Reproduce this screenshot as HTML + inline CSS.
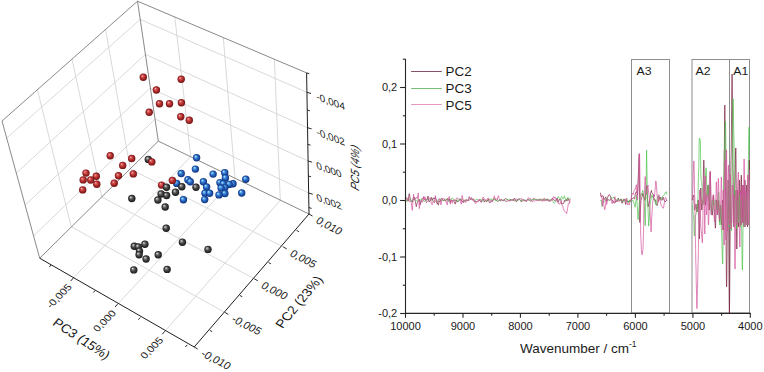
<!DOCTYPE html>
<html><head><meta charset="utf-8"><style>
html,body{margin:0;padding:0;background:#fff;}
body{width:764px;height:372px;overflow:hidden;}
svg{display:block;}
.g{stroke:#cfcfcf;stroke-width:0.8;fill:none;}
.fr{stroke:#7c7c7c;stroke-width:0.9;fill:none;}
.ax{stroke:#1e1e1e;stroke-width:1.0;fill:none;}
.tk{stroke:#1e1e1e;stroke-width:0.95;fill:none;}
.ax2{stroke:#262626;stroke-width:1.1;fill:none;}
.box{stroke:#8e8e8e;stroke-width:1;fill:none;}
text{font-family:"Liberation Sans",sans-serif;fill:#1a1a1a;}
</style></head><body>
<svg width="764" height="372" viewBox="0 0 764 372">
<defs>
<radialGradient id="rg" cx="0.5" cy="0.5" r="0.52" fx="0.33" fy="0.3">
<stop offset="0" stop-color="#fbd0d0"/><stop offset="0.18" stop-color="#e07070"/><stop offset="0.5" stop-color="#bf3434"/><stop offset="1" stop-color="#6a1010"/></radialGradient>
<radialGradient id="bg" cx="0.5" cy="0.5" r="0.52" fx="0.33" fy="0.3">
<stop offset="0" stop-color="#d8f6ff"/><stop offset="0.18" stop-color="#70b8f0"/><stop offset="0.5" stop-color="#2a6cc8"/><stop offset="1" stop-color="#0c2c74"/></radialGradient>
<radialGradient id="kg" cx="0.5" cy="0.5" r="0.52" fx="0.33" fy="0.3">
<stop offset="0" stop-color="#f4f4f4"/><stop offset="0.18" stop-color="#a0a0a0"/><stop offset="0.5" stop-color="#4a4a4a"/><stop offset="1" stop-color="#141414"/></radialGradient>
</defs>
<line x1="6.7" y1="138.1" x2="140.2" y2="19.4" class="g"/>
<line x1="140.2" y1="19.4" x2="306.9" y2="92.3" class="g"/>
<line x1="16.3" y1="173.1" x2="145.4" y2="54.4" class="g"/>
<line x1="145.4" y1="54.4" x2="307.5" y2="127.7" class="g"/>
<line x1="25.4" y1="204.9" x2="150.2" y2="88.1" class="g"/>
<line x1="150.2" y1="88.1" x2="308.1" y2="161.0" class="g"/>
<line x1="34.0" y1="235.4" x2="155.2" y2="119.0" class="g"/>
<line x1="155.2" y1="119.0" x2="308.6" y2="193.0" class="g"/>
<line x1="37.4" y1="89.7" x2="71.2" y2="226.6" class="g"/>
<line x1="72.0" y1="59.1" x2="101.8" y2="196.9" class="g"/>
<line x1="105.6" y1="29.8" x2="130.2" y2="168.9" class="g"/>
<line x1="174.8" y1="17.0" x2="190.8" y2="156.6" class="g"/>
<line x1="223.3" y1="37.6" x2="235.0" y2="178.2" class="g"/>
<line x1="274.4" y1="59.2" x2="280.3" y2="200.3" class="g"/>
<line x1="71.2" y1="226.6" x2="224.8" y2="312.4" class="g"/>
<line x1="101.8" y1="196.9" x2="254.3" y2="278.8" class="g"/>
<line x1="130.2" y1="168.9" x2="283.2" y2="246.9" class="g"/>
<line x1="73.3" y1="278.0" x2="190.8" y2="156.6" class="g"/>
<line x1="117.6" y1="304.1" x2="235.0" y2="178.2" class="g"/>
<line x1="164.9" y1="331.2" x2="280.3" y2="200.3" class="g"/>
<line x1="2.0" y1="121.0" x2="137.5" y2="1.2" class="fr"/>
<line x1="137.5" y1="1.2" x2="306.6" y2="72.9" class="fr"/>
<line x1="2.0" y1="121.0" x2="39.7" y2="258.2" class="fr"/>
<line x1="137.5" y1="1.2" x2="158.3" y2="141.1" class="fr"/>
<line x1="39.7" y1="258.2" x2="158.3" y2="141.1" class="fr"/>
<line x1="158.3" y1="141.1" x2="309.0" y2="214.0" class="fr"/>
<circle cx="143.3" cy="77.2" r="3.7" fill="url(#rg)"/>
<circle cx="181.2" cy="79.2" r="3.7" fill="url(#rg)"/>
<circle cx="156.4" cy="90.0" r="3.7" fill="url(#rg)"/>
<circle cx="181.4" cy="102.7" r="3.7" fill="url(#rg)"/>
<circle cx="159.5" cy="103.7" r="3.7" fill="url(#rg)"/>
<circle cx="169.5" cy="103.7" r="3.7" fill="url(#rg)"/>
<circle cx="149.2" cy="112.3" r="3.7" fill="url(#rg)"/>
<circle cx="180.8" cy="116.8" r="3.7" fill="url(#rg)"/>
<circle cx="189.3" cy="120.2" r="3.7" fill="url(#rg)"/>
<circle cx="110.2" cy="155.7" r="3.7" fill="url(#rg)"/>
<circle cx="196.6" cy="157.8" r="3.7" fill="url(#bg)"/>
<circle cx="131.7" cy="158.5" r="3.7" fill="url(#rg)"/>
<circle cx="148.3" cy="159.4" r="3.7" fill="url(#kg)"/>
<circle cx="151.8" cy="161.9" r="3.7" fill="url(#rg)"/>
<circle cx="122.7" cy="165.4" r="3.7" fill="url(#rg)"/>
<circle cx="195.4" cy="169.1" r="3.7" fill="url(#bg)"/>
<circle cx="224.7" cy="172.7" r="3.7" fill="url(#bg)"/>
<circle cx="86.0" cy="173.1" r="3.7" fill="url(#rg)"/>
<circle cx="181.2" cy="173.5" r="3.7" fill="url(#bg)"/>
<circle cx="133.3" cy="173.9" r="3.7" fill="url(#rg)"/>
<circle cx="213.1" cy="174.1" r="3.7" fill="url(#bg)"/>
<circle cx="118.5" cy="175.8" r="3.7" fill="url(#rg)"/>
<circle cx="96.3" cy="176.3" r="3.7" fill="url(#rg)"/>
<circle cx="225.4" cy="177.9" r="3.7" fill="url(#bg)"/>
<circle cx="245.8" cy="179.2" r="3.7" fill="url(#bg)"/>
<circle cx="187.9" cy="179.8" r="3.7" fill="url(#bg)"/>
<circle cx="83.2" cy="179.9" r="3.7" fill="url(#rg)"/>
<circle cx="90.7" cy="180.0" r="3.7" fill="url(#rg)"/>
<circle cx="190.3" cy="181.7" r="3.7" fill="url(#bg)"/>
<circle cx="203.4" cy="181.7" r="3.7" fill="url(#bg)"/>
<circle cx="220.0" cy="182.7" r="3.7" fill="url(#bg)"/>
<circle cx="114.2" cy="183.2" r="3.7" fill="url(#rg)"/>
<circle cx="176.7" cy="183.4" r="3.7" fill="url(#bg)"/>
<circle cx="223.3" cy="183.8" r="3.7" fill="url(#bg)"/>
<circle cx="233.0" cy="183.8" r="3.7" fill="url(#bg)"/>
<circle cx="96.8" cy="184.2" r="3.7" fill="url(#rg)"/>
<circle cx="229.2" cy="184.4" r="3.7" fill="url(#bg)"/>
<circle cx="161.6" cy="185.1" r="3.7" fill="url(#rg)"/>
<circle cx="181.8" cy="186.7" r="3.7" fill="url(#kg)"/>
<circle cx="206.6" cy="187.0" r="3.7" fill="url(#bg)"/>
<circle cx="166.5" cy="187.2" r="3.7" fill="url(#kg)"/>
<circle cx="196.0" cy="187.3" r="3.7" fill="url(#kg)"/>
<circle cx="224.9" cy="187.6" r="3.7" fill="url(#bg)"/>
<circle cx="221.1" cy="188.1" r="3.7" fill="url(#bg)"/>
<circle cx="82.7" cy="189.9" r="3.7" fill="url(#rg)"/>
<circle cx="175.5" cy="192.2" r="3.7" fill="url(#kg)"/>
<circle cx="241.7" cy="193.0" r="3.7" fill="url(#bg)"/>
<circle cx="205.0" cy="193.2" r="3.7" fill="url(#bg)"/>
<circle cx="209.6" cy="193.2" r="3.7" fill="url(#bg)"/>
<circle cx="224.9" cy="193.5" r="3.7" fill="url(#bg)"/>
<circle cx="161.1" cy="194.0" r="3.7" fill="url(#kg)"/>
<circle cx="219.0" cy="194.9" r="3.7" fill="url(#bg)"/>
<circle cx="166.6" cy="195.5" r="3.7" fill="url(#kg)"/>
<circle cx="131.8" cy="198.5" r="3.7" fill="url(#kg)"/>
<circle cx="204.7" cy="199.6" r="3.7" fill="url(#bg)"/>
<circle cx="183.4" cy="199.7" r="3.7" fill="url(#bg)"/>
<circle cx="157.9" cy="200.0" r="3.7" fill="url(#kg)"/>
<circle cx="165.2" cy="207.0" r="3.7" fill="url(#kg)"/>
<circle cx="166.2" cy="228.2" r="3.7" fill="url(#kg)"/>
<circle cx="182.4" cy="242.2" r="3.7" fill="url(#kg)"/>
<circle cx="144.9" cy="244.2" r="3.7" fill="url(#kg)"/>
<circle cx="134.3" cy="246.3" r="3.7" fill="url(#kg)"/>
<circle cx="138.3" cy="246.9" r="3.7" fill="url(#kg)"/>
<circle cx="208.0" cy="249.4" r="3.7" fill="url(#kg)"/>
<circle cx="139.5" cy="251.1" r="3.7" fill="url(#kg)"/>
<circle cx="139.1" cy="254.7" r="3.7" fill="url(#kg)"/>
<circle cx="158.2" cy="254.7" r="3.7" fill="url(#kg)"/>
<circle cx="146.1" cy="259.0" r="3.7" fill="url(#kg)"/>
<circle cx="167.1" cy="269.4" r="3.7" fill="url(#kg)"/>
<circle cx="133.8" cy="269.9" r="3.7" fill="url(#kg)"/>
<circle cx="172.4" cy="180.4" r="3.7" fill="url(#rg)"/>
<line x1="39.7" y1="258.2" x2="194.2" y2="347.0" class="ax"/>
<line x1="194.2" y1="347.0" x2="309.0" y2="214.0" class="ax"/>
<line x1="309.0" y1="214.0" x2="306.6" y2="72.9" class="ax"/>
<line x1="306.9" y1="92.3" x2="311.0" y2="93.5" class="tk"/>
<line x1="307.5" y1="127.7" x2="311.6" y2="128.9" class="tk"/>
<line x1="308.1" y1="161.0" x2="312.1" y2="162.2" class="tk"/>
<line x1="308.6" y1="193.0" x2="312.7" y2="194.2" class="tk"/>
<line x1="306.6" y1="72.9" x2="309.3" y2="73.7" class="tk"/>
<line x1="307.2" y1="110.0" x2="309.9" y2="110.8" class="tk"/>
<line x1="307.8" y1="144.4" x2="310.5" y2="145.2" class="tk"/>
<line x1="308.4" y1="176.0" x2="311.0" y2="176.8" class="tk"/>
<line x1="308.9" y1="207.6" x2="311.6" y2="208.4" class="tk"/>
<line x1="194.2" y1="347.0" x2="197.7" y2="349.0" class="tk"/>
<line x1="224.8" y1="312.4" x2="228.3" y2="314.4" class="tk"/>
<line x1="254.3" y1="278.8" x2="257.8" y2="280.8" class="tk"/>
<line x1="283.2" y1="246.9" x2="286.7" y2="248.9" class="tk"/>
<line x1="309.0" y1="214.0" x2="312.5" y2="216.0" class="tk"/>
<line x1="209.8" y1="330.3" x2="212.2" y2="331.7" class="tk"/>
<line x1="239.9" y1="295.4" x2="242.3" y2="296.8" class="tk"/>
<line x1="268.6" y1="262.5" x2="271.0" y2="263.9" class="tk"/>
<line x1="296.5" y1="230.3" x2="298.9" y2="231.7" class="tk"/>
<line x1="73.3" y1="278.0" x2="70.7" y2="281.0" class="tk"/>
<line x1="117.6" y1="304.1" x2="115.0" y2="307.1" class="tk"/>
<line x1="164.9" y1="331.2" x2="162.3" y2="334.2" class="tk"/>
<line x1="51.1" y1="265.0" x2="49.3" y2="267.1" class="tk"/>
<line x1="95.2" y1="290.4" x2="93.4" y2="292.5" class="tk"/>
<line x1="140.2" y1="317.6" x2="138.4" y2="319.7" class="tk"/>
<line x1="187.2" y1="344.9" x2="185.4" y2="347.0" class="tk"/>
<text transform="matrix(0.9648,0.3607,0.1045,0.9945,316.78,99.80)" font-size="10.4" text-anchor="start" class="lb">-0,004</text>
<text transform="matrix(0.9648,0.3607,0.1392,0.9903,316.90,135.20)" font-size="10.4" text-anchor="start" class="lb">-0,002</text>
<text transform="matrix(0.9648,0.3607,0.1908,0.9816,317.09,168.50)" font-size="10.4" text-anchor="start" class="lb">0,000</text>
<text transform="matrix(0.9648,0.3607,0.2250,0.9744,317.21,200.50)" font-size="10.4" text-anchor="start" class="lb">0,002</text>
<text transform="matrix(0.8870,0.4617,-0.5800,0.8100,200.10,355.60)" font-size="11" text-anchor="start" class="lb">-0,010</text>
<text transform="matrix(0.8870,0.4617,-0.5800,0.8100,230.70,321.00)" font-size="11" text-anchor="start" class="lb">-0,005</text>
<text transform="matrix(0.8870,0.4617,-0.5800,0.8100,260.20,287.40)" font-size="11" text-anchor="start" class="lb">0,000</text>
<text transform="matrix(0.8870,0.4617,-0.5800,0.8100,289.10,255.50)" font-size="11" text-anchor="start" class="lb">0,005</text>
<text transform="matrix(0.8870,0.4617,-0.5800,0.8100,314.90,222.60)" font-size="11" text-anchor="start" class="lb">0,010</text>
<text transform="matrix(0.7637,-0.7637,0.8000,0.6000,72.50,287.30)" font-size="10" text-anchor="end" class="lb">-0,005</text>
<text transform="matrix(0.7637,-0.7637,0.8000,0.6000,116.80,313.40)" font-size="10" text-anchor="end" class="lb">0,000</text>
<text transform="matrix(0.7637,-0.7637,0.8000,0.6000,164.10,340.50)" font-size="10" text-anchor="end" class="lb">0,005</text>
<text transform="matrix(0.0000,-0.7600,0.8800,0.4800,358.60,191.80)" font-size="13.5" text-anchor="start" class="lb">PC5 (4%)</text>
<text transform="matrix(0.8350,0.5500,-0.6300,0.7760,51.80,324.60)" font-size="13.2" text-anchor="start" class="lb">PC3 (15%)</text>
<text transform="matrix(0.6370,-0.7700,0.8700,0.4900,282.40,329.00)" font-size="13.2" text-anchor="start" class="lb">PC2 (23%)</text>
<rect x="631.5" y="59.5" width="38.0" height="253.5" class="box"/>
<rect x="692.0" y="59.5" width="37.5" height="253.5" class="box"/>
<rect x="729.5" y="59.5" width="20.0" height="253.5" class="box"/>
<path d="M406.3,197.5 L407.3,200.0 L408.3,201.1 L409.0,194.8 L409.3,193.7 L410.3,199.1 L411.3,200.6 L412.3,202.2 L413.3,198.1 L414.3,197.0 L415.3,201.2 L416.0,205.2 L416.3,206.6 L417.3,202.6 L418.3,200.4 L419.3,199.5 L420.3,204.7 L421.3,200.6 L422.3,198.6 L423.3,197.4 L424.3,199.5 L425.3,200.0 L426.3,199.4 L427.3,199.5 L428.0,196.0 L428.3,198.8 L429.3,201.9 L430.3,200.7 L431.3,197.3 L432.3,200.3 L433.3,197.8 L434.3,199.1 L435.3,197.4 L436.3,199.8 L437.0,203.5 L437.3,202.7 L438.3,205.1 L439.3,201.1 L440.3,201.5 L441.3,198.2 L442.3,199.0 L443.3,200.7 L444.3,200.0 L445.3,200.5 L446.3,200.2 L447.3,198.4 L448.3,200.4 L449.3,198.8 L450.3,202.5 L451.3,199.8 L452.3,200.9 L453.3,200.2 L454.3,202.0 L455.0,203.7 L455.3,204.1 L456.3,200.1 L457.3,201.9 L458.3,201.4 L459.3,200.5 L460.3,198.8 L461.3,200.8 L462.3,200.9 L463.3,202.7 L464.3,200.0 L465.3,200.8 L466.3,200.9 L467.3,200.6 L468.3,200.4 L469.3,200.3 L470.3,199.3 L471.3,198.5 L472.3,199.1 L473.3,200.4 L474.3,201.8 L475.3,201.6 L476.3,201.6 L477.3,201.3 L478.3,201.1 L479.3,200.4 L480.3,201.0 L481.3,202.3 L482.3,200.1 L483.3,199.1 L484.3,202.1 L485.3,200.7 L486.3,201.3 L487.3,201.3 L488.3,198.9 L489.3,202.6 L490.3,202.7 L491.3,200.8 L492.3,201.0 L493.3,200.3 L494.3,198.9 L495.3,199.5 L496.3,200.3 L497.3,201.3 L498.3,201.1 L499.3,200.3 L500.3,201.1 L501.3,199.6 L502.3,200.4 L503.3,200.9 L504.3,199.9 L505.3,198.5 L506.3,198.8 L507.3,199.8 L508.3,200.3 L509.3,201.2 L510.3,199.4 L511.3,199.8 L512.3,200.4 L513.3,199.9 L514.3,198.1 L515.3,200.1 L516.3,201.7 L517.3,201.1 L518.3,199.5 L519.3,199.5 L520.3,200.0 L521.3,201.9 L522.3,200.9 L523.3,200.2 L524.3,201.2 L525.3,200.2 L526.3,201.4 L527.3,199.7 L528.3,199.5 L529.3,200.4 L530.3,201.1 L531.3,200.7 L532.3,200.3 L533.3,198.6 L534.3,199.0 L535.3,199.2 L536.3,199.3 L537.3,200.2 L538.3,199.7 L539.3,200.5 L540.3,200.1 L541.3,199.7 L542.3,199.9 L543.3,200.2 L544.3,200.7 L545.3,199.7 L546.3,199.7 L547.3,198.8 L548.3,200.9 L549.3,201.3 L550.3,200.1 L551.3,199.6 L552.3,198.3 L553.3,199.7 L554.3,200.1 L555.0,200.7 L555.3,201.1 L556.3,200.1 L557.3,198.4 L558.0,202.3 L558.3,202.3 L559.3,199.3 L560.3,200.2 L561.0,199.4 L561.3,204.0 L562.3,203.6 L563.3,203.6 L564.0,203.0 L564.3,200.3 L565.3,201.3 L566.3,199.4 L567.0,201.1 L567.3,198.4 L568.3,198.9 L569.3,201.4 L570.3,202.3" fill="none" stroke="#7a1f3d" stroke-width="0.7" stroke-linejoin="round"/>
<path d="M600.4,192.7 L601.3,196.7 L602.2,196.2 L603.1,195.6 L604.0,199.8 L604.9,198.3 L605.8,196.9 L606.7,201.1 L607.6,197.6 L608.5,195.2 L609.4,194.4 L610.3,196.0 L611.2,198.9 L612.1,200.1 L613.0,201.0 L613.9,202.8 L614.8,203.0 L615.7,201.0 L616.6,202.0 L617.5,200.9 L618.4,198.2 L619.3,200.5 L620.2,199.6 L621.1,198.9 L622.0,203.3 L622.9,201.9 L623.8,199.1 L624.7,199.3 L625.6,204.4 L626.5,200.4 L627.4,201.5 L628.3,201.6 L629.2,201.5 L630.1,201.6 L631.0,199.9 L631.9,198.7 L632.8,198.5 L633.7,197.7 L634.0,198.4 L634.6,198.9 L635.5,192.9 L636.0,192.2 L636.4,191.6 L637.3,193.3 L637.5,194.8 L638.2,178.6 L639.1,156.8 L639.2,153.8 L639.8,222.4 L640.0,218.3 L640.9,200.9 L641.0,200.3 L641.8,197.4 L642.7,193.5 L643.0,195.1 L643.6,197.3 L644.5,197.8 L645.0,200.3 L645.4,196.9 L646.3,185.6 L646.5,185.7 L647.2,195.7 L648.1,206.6 L649.0,203.2 L649.9,198.9 L650.0,198.5 L650.8,192.2 L651.5,190.4 L651.7,192.3 L652.6,193.9 L653.4,194.4 L653.5,196.8 L654.4,199.5 L655.0,200.2 L655.3,199.7 L656.2,204.5 L657.0,205.6 L657.1,205.7 L658.0,202.1 L658.9,199.7 L659.0,197.0 L659.8,198.5 L660.7,197.2 L661.0,199.9 L661.6,200.1 L662.5,199.9 L663.0,197.0 L663.4,198.5 L664.3,200.4 L665.0,201.4 L665.2,202.0 L666.1,201.0 L667.0,200.1" fill="none" stroke="#7a1f3d" stroke-width="0.7" stroke-linejoin="round"/>
<path d="M692.2,200.0 L692.4,200.0 L692.6,198.8 L692.8,197.4 L693.0,196.6 L693.2,195.7 L693.4,195.2 L693.5,195.0 L693.6,195.3 L693.8,197.5 L694.0,201.3 L694.2,205.6 L694.4,208.7 L694.6,210.1 L694.8,209.9 L695.0,208.7 L695.2,207.8 L695.4,206.4 L695.6,205.4 L695.8,204.7 L696.0,204.1 L696.2,204.5 L696.4,206.8 L696.6,209.0 L696.8,211.5 L697.0,212.0 L697.2,211.2 L697.4,209.4 L697.6,205.8 L697.8,203.0 L698.0,200.6 L698.2,200.0 L698.4,202.5 L698.6,209.9 L698.8,219.5 L699.0,229.3 L699.2,236.6 L699.4,238.9 L699.6,233.5 L699.8,219.5 L700.0,205.4 L700.2,199.9 L700.4,197.1 L700.6,191.2 L700.8,188.0 L701.0,190.1 L701.2,195.7 L701.4,202.6 L701.6,208.0 L701.8,210.1 L702.0,209.0 L702.2,206.4 L702.4,203.6 L702.6,201.1 L702.8,200.0 L703.0,196.3 L703.2,186.3 L703.4,174.0 L703.6,164.1 L703.8,160.1 L704.0,164.6 L704.2,175.0 L704.4,185.5 L704.6,189.9 L704.8,191.4 L705.0,195.2 L705.2,199.9 L705.4,203.3 L705.6,205.0 L705.8,203.9 L706.0,201.2 L706.2,198.6 L706.4,196.2 L706.6,195.0 L706.8,194.6 L707.0,193.7 L707.2,191.4 L707.4,189.7 L707.6,187.9 L707.8,186.4 L708.0,185.0 L708.1,184.9 L708.2,185.5 L708.4,189.6 L708.6,195.6 L708.8,202.5 L709.0,207.8 L709.2,210.1 L709.4,206.3 L709.6,197.0 L709.8,185.3 L710.0,175.9 L710.2,172.1 L710.4,175.3 L710.6,183.7 L710.8,193.8 L711.0,201.7 L711.2,205.0 L711.4,206.1 L711.6,208.5 L711.8,211.5 L712.0,214.1 L712.2,215.2 L712.4,214.0 L712.6,210.8 L712.8,206.4 L713.0,201.5 L713.2,197.8 L713.4,195.5 L713.5,195.0 L713.6,195.2 L713.8,198.7 L714.0,203.7 L714.2,208.6 L714.4,211.1 L714.5,212.0 L714.6,212.2 L714.8,215.9 L715.0,221.3 L715.2,226.0 L715.4,228.1 L715.6,225.4 L715.8,218.6 L716.0,209.6 L716.2,202.6 L716.4,200.1 L716.6,201.3 L716.8,204.3 L717.0,208.4 L717.2,212.3 L717.4,214.7 L717.5,215.0 L717.6,214.7 L717.8,212.1 L718.0,207.7 L718.2,203.2 L718.4,200.7 L718.5,200.1 L718.6,200.6 L718.8,204.5 L719.0,211.0 L719.2,217.3 L719.4,221.2 L719.5,222.0 L719.6,221.5 L719.8,218.6 L720.0,213.4 L720.2,208.5 L720.4,205.5 L720.5,205.0 L720.6,205.5 L720.8,209.0 L721.0,214.9 L721.2,221.0 L721.4,224.6 L721.5,225.0 L721.6,224.3 L721.8,220.0 L722.0,212.9 L722.2,204.9 L722.4,200.8 L722.5,200.0 L722.6,201.0 L722.8,206.5 L723.0,214.9 L723.2,224.1 L723.4,229.3 L723.5,230.0 L723.6,226.4 L723.8,202.5 L724.0,178.8 L724.1,175.0 L724.2,171.3 L724.4,147.8 L724.6,118.0 L724.8,105.1 L725.0,119.0 L725.2,152.8 L725.4,185.9 L725.6,199.9 L725.8,207.8 L726.0,229.9 L726.2,256.7 L726.4,278.7 L726.6,286.9 L726.8,278.9 L727.0,259.3 L727.2,236.7 L727.4,222.2 L727.5,220.1 L727.6,218.2 L727.8,204.3 L728.0,187.3 L728.2,180.1 L728.4,189.0 L728.6,213.3 L728.8,246.6 L729.0,279.8 L729.2,304.1 L729.4,313.0 L729.6,302.8 L729.8,277.0 L730.0,248.6 L730.2,229.5 L730.3,226.7 L730.4,223.6 L730.6,201.0 L730.8,172.4 L731.0,160.0 L731.2,153.4 L731.4,135.1 L731.6,111.0 L731.8,89.1 L732.0,75.8 L732.1,74.0 L732.2,77.2 L732.4,98.1 L732.6,130.4 L732.8,158.9 L733.0,170.0 L733.2,176.4 L733.4,193.8 L733.6,212.7 L733.8,225.5 L733.9,226.9 L734.0,225.3 L734.2,215.7 L734.4,201.4 L734.6,191.3 L734.7,190.0 L734.8,188.8 L735.0,182.8 L735.2,171.9 L735.4,160.2 L735.6,151.2 L735.8,148.0 L736.0,157.8 L736.2,183.2 L736.4,214.5 L736.6,239.5 L736.8,249.0 L737.0,242.2 L737.2,224.5 L737.4,204.6 L737.6,191.9 L737.7,190.0 L737.8,190.7 L738.0,199.1 L738.2,211.6 L738.4,222.8 L738.6,226.8 L738.8,221.2 L739.0,207.5 L739.2,191.7 L739.4,181.5 L739.5,180.0 L739.6,181.4 L739.8,191.1 L740.0,206.5 L740.2,219.7 L740.4,224.8 L740.6,218.9 L740.8,204.0 L741.0,187.4 L741.2,176.5 L741.3,175.1 L741.4,176.7 L741.6,187.0 L741.8,203.1 L742.0,217.0 L742.2,222.8 L742.4,218.4 L742.6,207.1 L742.8,194.2 L743.0,186.4 L743.1,185.0 L743.2,186.6 L743.4,195.8 L743.6,209.9 L743.8,221.9 L744.0,226.8 L744.2,221.1 L744.4,207.4 L744.6,191.4 L744.8,181.2 L744.9,180.0 L745.0,181.5 L745.2,191.0 L745.4,205.1 L745.6,217.8 L745.8,222.7 L746.0,218.1 L746.2,206.8 L746.4,194.3 L746.6,186.2 L746.7,185.0 L746.8,186.3 L747.0,195.3 L747.2,209.3 L747.4,221.8 L747.6,226.8 L747.8,222.4 L748.0,211.7 L748.2,199.2 L748.4,190.9 L748.5,189.9 L748.6,188.3 L748.8,178.1 L749.0,165.8 L749.2,160.0 L749.4,169.7 L749.6,180.0" fill="none" stroke="#7a1f3d" stroke-width="0.7" stroke-linejoin="round"/>
<path d="M406.3,200.7 L407.3,201.5 L408.3,199.5 L409.3,198.9 L410.3,200.0 L411.3,201.8 L412.3,200.8 L413.3,198.9 L414.3,198.9 L415.3,199.6 L416.3,200.9 L417.3,200.2 L418.3,199.6 L419.3,199.6 L420.3,200.0 L421.3,199.2 L422.3,199.8 L423.3,200.2 L424.3,201.7 L425.3,200.3 L426.3,200.9 L427.3,199.3 L428.3,200.5 L429.3,200.2 L430.3,199.5 L431.3,199.8 L432.3,200.7 L433.3,199.8 L434.3,200.8 L435.3,201.5 L436.3,201.7 L437.3,201.8 L438.3,199.3 L439.3,200.1 L440.3,199.4 L441.3,200.6 L442.3,200.2 L443.3,200.2 L444.3,200.4 L445.3,199.5 L446.3,199.9 L447.3,199.3 L448.3,201.6 L449.3,200.0 L450.3,200.0 L451.3,198.4 L452.3,198.3 L453.3,198.8 L454.3,200.3 L455.3,200.7 L456.3,200.4 L457.3,199.5 L458.3,201.4 L459.3,199.4 L460.3,199.1 L461.3,200.1 L462.3,199.1 L463.3,200.0 L464.3,200.8 L465.3,200.1 L466.3,200.3 L467.3,200.1 L468.3,199.4 L469.3,197.1 L470.3,198.4 L471.3,199.5 L472.3,198.7 L473.3,199.3 L474.3,199.9 L475.3,200.8 L476.3,199.2 L477.3,199.4 L478.3,200.0 L479.3,200.3 L480.3,199.1 L481.3,201.0 L482.3,199.6 L483.3,200.6 L484.3,200.0 L485.3,200.2 L486.3,201.1 L487.3,200.7 L488.3,200.2 L489.3,199.3 L490.3,199.3 L491.3,198.8 L492.3,201.0 L493.3,199.2 L494.3,198.0 L495.3,200.6 L496.3,200.9 L497.3,199.9 L498.3,200.5 L499.3,199.5 L500.3,199.6 L501.3,200.1 L502.3,200.1 L503.3,199.8 L504.3,200.6 L505.3,200.4 L506.3,200.1 L507.3,199.5 L508.3,199.9 L509.3,199.8 L510.3,199.8 L511.3,200.2 L512.3,199.8 L513.3,200.0 L514.3,200.3 L515.3,200.2 L516.3,201.0 L517.3,199.4 L518.3,199.8 L519.3,199.4 L520.3,199.8 L521.3,201.0 L522.3,199.5 L523.3,199.7 L524.3,200.1 L525.3,200.0 L526.3,200.3 L527.3,199.3 L528.3,200.2 L529.3,199.6 L530.3,199.3 L531.3,200.0 L532.3,200.1 L533.3,199.7 L534.3,199.5 L535.3,199.7 L536.3,199.9 L537.3,199.8 L538.3,199.5 L539.3,198.8 L540.3,200.2 L541.3,200.1 L542.3,199.4 L543.3,199.1 L544.3,199.4 L545.3,199.6 L546.3,198.9 L547.3,200.3 L548.3,200.2 L549.3,199.8 L550.3,200.0 L551.3,200.0 L552.0,200.1 L552.3,200.5 L553.3,202.0 L554.3,203.2 L555.0,202.5 L555.3,201.7 L556.3,199.6 L557.0,198.9 L557.3,197.9 L558.3,196.5 L558.5,196.4 L559.3,198.4 L560.0,199.3 L560.3,199.5 L561.3,196.8 L561.5,196.5 L562.3,197.7 L563.0,199.1 L563.3,198.7 L564.3,195.7 L564.5,196.6 L565.3,198.5 L566.0,200.3 L566.3,200.3 L567.3,198.7 L568.0,197.3 L568.3,197.5 L569.3,199.1 L570.3,199.0" fill="none" stroke="#4cc24c" stroke-width="0.7" stroke-linejoin="round"/>
<path d="M600.4,201.0 L601.3,200.0 L602.2,206.7 L603.1,202.7 L604.0,201.1 L604.9,201.1 L605.8,199.3 L606.7,198.9 L607.6,200.4 L608.5,199.5 L609.4,201.0 L610.3,200.0 L611.2,197.6 L612.1,197.6 L613.0,198.3 L613.9,196.9 L614.8,199.1 L615.7,199.4 L616.6,201.1 L617.5,199.1 L618.4,199.5 L619.3,200.6 L620.2,201.1 L621.1,198.9 L622.0,201.8 L622.9,199.6 L623.8,201.5 L624.7,200.0 L625.6,199.4 L626.5,198.2 L627.4,199.4 L628.3,203.0 L629.2,199.9 L630.1,202.0 L631.0,200.5 L631.9,200.1 L632.8,201.1 L633.0,200.5 L633.7,202.4 L634.6,204.8 L635.1,207.3 L635.5,204.2 L636.4,198.1 L636.5,195.3 L637.3,206.5 L638.1,219.6 L638.2,217.1 L639.1,206.1 L639.5,200.2 L640.0,198.1 L640.9,194.4 L641.0,195.2 L641.8,192.8 L642.7,192.0 L642.8,190.4 L643.6,196.4 L644.0,199.8 L644.5,209.2 L645.2,225.7 L645.4,218.5 L646.0,190.0 L646.3,171.1 L646.6,150.2 L647.2,185.2 L647.3,190.4 L648.1,210.7 L648.7,226.1 L649.0,221.5 L649.9,207.1 L650.0,204.9 L650.8,200.1 L651.7,196.0 L652.0,194.8 L652.6,197.1 L653.5,199.0 L654.0,200.1 L654.4,199.4 L655.3,202.5 L656.0,204.8 L656.2,203.4 L657.1,199.2 L658.0,194.9 L658.9,195.7 L659.8,200.0 L660.0,200.2 L660.7,199.2 L661.6,198.8 L662.0,197.9 L662.5,196.3 L663.4,195.6 L664.0,195.3 L664.3,194.8 L665.2,192.6 L666.1,192.2 L666.5,191.7 L667.0,194.5" fill="none" stroke="#4cc24c" stroke-width="0.7" stroke-linejoin="round"/>
<path d="M692.2,205.4 L692.4,205.5 L692.6,207.2 L692.8,209.4 L693.0,211.6 L693.2,213.6 L693.4,214.7 L693.5,215.0 L693.6,215.7 L693.8,220.5 L694.0,227.4 L694.2,233.8 L694.4,236.0 L694.6,234.4 L694.8,229.8 L695.0,223.8 L695.2,218.3 L695.4,215.3 L695.5,215.0 L695.6,215.0 L695.8,214.8 L696.0,214.0 L696.2,213.5 L696.4,212.8 L696.6,212.6 L696.8,212.1 L697.0,212.0 L697.2,210.1 L697.4,205.7 L697.6,201.6 L697.8,200.0 L698.0,196.5 L698.2,187.3 L698.4,177.5 L698.6,170.7 L698.7,170.0 L698.8,167.7 L699.0,153.9 L699.2,140.2 L699.3,138.0 L699.4,138.1 L699.6,138.3 L699.8,139.0 L700.0,139.7 L700.2,140.1 L700.3,140.0 L700.4,141.7 L700.6,155.3 L700.8,172.3 L701.0,180.0 L701.2,180.3 L701.4,181.3 L701.6,182.6 L701.8,183.9 L702.0,185.8 L702.2,187.6 L702.4,188.9 L702.6,189.4 L702.8,190.0 L703.0,191.3 L703.2,194.7 L703.4,199.6 L703.6,203.1 L703.8,204.9 L704.0,204.2 L704.2,202.0 L704.4,198.8 L704.6,196.1 L704.8,195.1 L705.0,193.6 L705.2,189.0 L705.4,182.6 L705.6,176.7 L705.8,171.0 L706.0,167.7 L706.1,167.9 L706.2,168.5 L706.4,172.5 L706.6,179.7 L706.8,187.1 L707.0,192.9 L707.2,195.0 L707.4,194.3 L707.6,192.8 L707.8,191.0 L708.0,188.1 L708.2,186.3 L708.4,185.2 L708.5,185.0 L708.6,185.3 L708.8,187.8 L709.0,192.3 L709.2,196.9 L709.4,199.8 L709.5,200.1 L709.6,200.0 L709.8,200.5 L710.0,202.3 L710.2,204.0 L710.4,205.6 L710.6,207.9 L710.8,210.0 L711.0,211.8 L711.2,212.9 L711.4,213.7 L711.5,214.0 L711.6,213.6 L711.8,211.3 L712.0,207.1 L712.2,202.7 L712.4,200.0 L712.5,199.9 L712.6,200.2 L712.8,200.7 L713.0,201.2 L713.2,202.4 L713.4,203.4 L713.6,204.1 L713.8,204.8 L714.0,205.0 L714.2,204.6 L714.4,204.0 L714.6,203.3 L714.8,202.5 L715.0,201.1 L715.2,200.5 L715.4,200.1 L715.5,200.0 L715.6,199.9 L715.8,201.1 L716.0,202.8 L716.2,204.8 L716.4,206.7 L716.6,208.7 L716.8,209.7 L717.0,210.1 L717.2,209.4 L717.4,207.7 L717.6,205.0 L717.8,201.6 L718.0,198.4 L718.2,195.3 L718.4,193.1 L718.6,192.0 L718.7,192.0 L718.8,193.0 L719.0,198.1 L719.2,206.5 L719.4,215.6 L719.6,222.3 L719.8,225.0 L720.0,221.8 L720.2,214.8 L720.4,207.8 L720.6,205.0 L720.8,208.8 L721.0,217.4 L721.2,226.8 L721.4,230.0 L721.6,232.1 L721.8,237.1 L722.0,245.1 L722.2,252.8 L722.4,259.7 L722.6,263.5 L722.7,264.0 L722.8,261.7 L723.0,244.4 L723.2,219.7 L723.4,202.8 L723.5,200.0 L723.6,198.1 L723.8,184.5 L724.0,165.4 L724.2,151.7 L724.3,150.0 L724.4,149.6 L724.6,145.7 L724.8,139.3 L725.0,131.6 L725.2,125.5 L725.4,121.5 L725.5,121.1 L725.6,123.3 L725.8,138.3 L726.0,161.7 L726.2,182.2 L726.4,190.1 L726.6,194.9 L726.8,206.3 L727.0,218.9 L727.2,227.8 L727.3,228.8 L727.4,227.7 L727.6,219.0 L727.8,204.3 L728.0,190.3 L728.2,181.7 L728.3,180.1 L728.4,181.4 L728.6,192.0 L728.8,207.6 L729.0,221.5 L729.2,226.9 L729.4,222.6 L729.6,212.4 L729.8,199.2 L730.0,188.8 L730.2,185.0 L730.4,187.4 L730.6,194.7 L730.8,205.0 L731.0,216.0 L731.2,225.1 L731.4,230.2 L731.5,230.8 L731.6,228.3 L731.8,212.1 L732.0,188.6 L732.2,172.1 L732.3,170.0 L732.4,167.2 L732.6,147.9 L732.8,121.1 L733.0,101.7 L733.1,98.9 L733.2,100.0 L733.4,109.5 L733.6,123.7 L733.8,135.3 L734.0,140.0 L734.2,152.3 L734.4,181.5 L734.6,210.3 L734.8,222.8 L735.0,219.0 L735.2,209.2 L735.4,197.9 L735.6,190.8 L735.7,190.0 L735.8,191.1 L736.0,199.7 L736.2,212.7 L736.4,224.4 L736.6,228.8 L736.8,225.2 L737.0,216.7 L737.2,207.2 L737.4,200.8 L737.5,200.1 L737.6,200.6 L737.8,205.7 L738.0,213.5 L738.2,219.9 L738.4,222.9 L738.6,219.5 L738.8,211.2 L739.0,201.8 L739.2,195.5 L739.3,194.9 L739.4,196.1 L739.6,203.0 L739.8,213.6 L740.0,223.1 L740.2,226.8 L740.4,223.5 L740.6,215.6 L740.8,206.7 L741.0,201.0 L741.1,200.0 L741.2,201.3 L741.4,208.8 L741.6,222.5 L741.8,238.9 L742.0,254.8 L742.2,266.1 L742.4,270.0 L742.6,263.5 L742.8,247.1 L743.0,228.6 L743.2,216.5 L743.3,215.0 L743.4,214.6 L743.6,210.1 L743.8,203.5 L744.0,197.6 L744.2,195.0 L744.4,199.0 L744.6,208.2 L744.8,218.6 L745.0,225.7 L745.1,226.8 L745.2,225.7 L745.4,220.4 L745.6,211.1 L745.8,203.3 L746.0,199.9 L746.2,202.9 L746.4,210.3 L746.6,218.5 L746.8,224.1 L746.9,224.8 L747.0,223.7 L747.2,214.6 L747.4,201.5 L747.6,189.6 L747.8,184.9 L748.0,181.2 L748.2,172.3 L748.4,159.4 L748.6,146.1 L748.8,134.2 L749.0,128.1 L749.1,127.1 L749.2,129.3 L749.4,142.1 L749.6,150.0" fill="none" stroke="#4cc24c" stroke-width="0.7" stroke-linejoin="round"/>
<path d="M406.3,201.1 L407.3,200.3 L408.3,197.1 L409.3,201.5 L410.3,201.1 L411.3,202.4 L412.0,209.1 L412.3,210.4 L413.3,197.9 L413.5,194.1 L414.3,200.1 L415.3,198.9 L416.3,197.1 L417.3,198.6 L418.3,192.9 L419.3,208.6 L420.3,201.1 L421.3,200.4 L422.3,202.3 L423.3,199.4 L424.0,196.1 L424.3,199.8 L425.3,197.2 L426.3,202.9 L427.3,201.0 L428.3,201.5 L429.3,198.2 L430.3,198.2 L431.3,203.2 L432.2,204.8 L432.3,203.8 L433.3,200.8 L434.3,203.1 L435.3,195.7 L436.3,202.0 L437.3,201.0 L438.3,202.1 L439.3,198.4 L440.3,200.4 L441.0,204.9 L441.3,202.9 L442.3,198.8 L443.3,198.8 L444.3,198.6 L445.3,201.3 L446.3,201.4 L447.0,204.7 L447.3,204.9 L448.3,198.0 L449.3,196.5 L450.3,204.2 L451.3,199.7 L452.3,203.3 L453.3,200.6 L454.3,199.7 L455.3,201.0 L456.3,198.4 L457.3,197.8 L458.3,199.0 L459.3,198.9 L460.3,201.2 L461.3,204.1 L462.0,195.5 L462.3,195.5 L463.3,201.0 L464.3,201.3 L465.3,202.6 L466.3,199.1 L467.3,201.0 L468.3,200.1 L469.3,196.6 L470.3,199.8 L471.3,197.4 L472.3,200.2 L473.3,199.3 L474.3,199.5 L475.3,203.3 L476.3,203.2 L477.3,201.5 L478.3,201.0 L479.3,199.0 L480.3,201.7 L481.3,201.4 L482.3,198.9 L483.3,197.0 L484.3,199.2 L485.3,199.5 L486.3,201.2 L487.3,198.6 L488.3,198.2 L489.3,200.2 L490.3,200.1 L491.3,201.5 L492.3,202.1 L493.3,199.0 L494.3,195.9 L495.3,199.0 L496.3,198.5 L497.3,200.0 L498.3,195.6 L499.3,198.7 L500.3,199.7 L501.3,199.3 L502.3,200.3 L503.3,200.1 L504.3,200.2 L505.3,201.4 L506.3,201.6 L507.3,201.6 L508.3,200.7 L509.3,200.3 L510.3,200.6 L511.3,200.4 L512.3,199.3 L513.3,200.2 L514.3,201.0 L515.3,199.8 L516.3,198.7 L517.3,200.2 L518.3,199.2 L519.3,198.2 L520.3,199.2 L521.3,198.2 L522.3,199.9 L523.3,199.4 L524.3,199.9 L525.3,201.1 L526.3,201.4 L527.3,200.2 L528.3,197.6 L529.3,198.9 L530.3,198.4 L531.3,200.5 L532.3,201.7 L533.3,201.1 L534.3,200.9 L535.3,200.8 L536.3,200.9 L537.3,199.8 L538.3,200.8 L539.3,199.8 L540.3,198.7 L541.3,199.7 L542.3,201.5 L543.3,200.1 L544.3,198.1 L545.3,200.8 L546.3,200.4 L547.3,200.6 L548.3,199.6 L549.3,200.4 L550.3,201.7 L551.3,199.7 L552.0,200.2 L552.3,200.3 L553.3,196.8 L554.0,196.8 L554.3,198.1 L555.3,197.2 L556.0,199.5 L556.3,198.0 L557.3,202.2 L558.3,203.3 L559.3,203.9 L560.0,203.7 L560.3,202.8 L561.3,201.4 L562.3,205.3 L563.0,206.9 L563.3,208.4 L564.3,211.1 L565.3,211.8 L566.3,212.4 L566.6,213.7 L567.3,210.0 L568.0,206.0 L568.3,203.3 L569.3,203.6 L570.3,198.8" fill="none" stroke="#d4519c" stroke-width="0.7" stroke-linejoin="round"/>
<path d="M600.4,194.6 L601.3,197.3 L602.0,197.3 L602.2,205.9 L603.1,198.4 L604.0,205.4 L604.5,209.4 L604.9,209.6 L605.8,204.5 L606.0,199.5 L606.7,204.5 L607.6,199.3 L608.5,199.8 L609.4,200.0 L610.3,200.0 L611.2,198.7 L612.1,203.8 L613.0,201.2 L613.9,203.0 L614.8,196.7 L615.7,200.8 L616.6,199.7 L617.5,201.1 L618.4,200.9 L619.3,201.5 L620.2,200.2 L621.1,200.3 L622.0,200.5 L622.9,200.8 L623.8,200.4 L624.7,199.2 L625.6,201.0 L626.5,198.1 L627.4,205.0 L628.3,203.6 L629.2,205.0 L630.1,201.0 L631.0,199.3 L631.9,194.3 L632.8,193.2 L633.0,194.5 L633.7,192.0 L634.6,189.7 L635.5,189.2 L636.3,184.7 L636.4,189.3 L637.3,197.6 L637.5,200.1 L638.2,183.2 L638.8,174.9 L639.1,164.1 L639.6,153.7 L640.0,180.7 L640.3,200.2 L640.7,234.9 L640.9,238.7 L641.4,249.8 L641.8,253.9 L642.2,254.8 L642.7,251.1 L643.0,249.4 L643.5,232.4 L643.6,225.2 L644.0,203.6 L644.5,188.3 L645.2,176.6 L645.4,181.2 L646.3,190.6 L646.5,194.2 L647.2,189.3 L648.0,185.0 L648.1,187.8 L649.0,195.2 L649.5,199.7 L649.9,209.2 L650.8,225.1 L651.1,231.9 L651.7,218.0 L652.5,204.6 L652.6,203.2 L653.5,198.0 L654.0,195.0 L654.4,196.7 L655.3,187.5 L655.8,180.9 L656.2,182.6 L657.1,195.2 L657.5,199.5 L658.0,202.0 L658.9,195.4 L659.0,194.8 L659.8,199.0 L660.7,203.2 L661.0,205.2 L661.6,205.8 L662.5,207.7 L663.4,208.2 L663.5,208.0 L664.3,202.8 L665.0,198.6 L665.2,197.5 L666.1,198.2 L667.0,200.8" fill="none" stroke="#d4519c" stroke-width="0.7" stroke-linejoin="round"/>
<path d="M692.2,199.8 L692.4,198.5 L692.6,194.9 L692.8,189.1 L693.0,182.0 L693.2,174.8 L693.4,168.8 L693.6,163.9 L693.8,161.2 L693.9,160.9 L694.0,161.7 L694.2,171.3 L694.4,184.3 L694.6,193.6 L694.7,195.1 L694.8,197.9 L695.0,212.0 L695.1,215.0 L695.2,221.2 L695.4,240.0 L695.6,248.4 L695.8,262.4 L695.9,264.9 L696.0,267.3 L696.2,280.3 L696.4,288.0 L696.6,295.0 L696.8,306.4 L696.9,308.6 L697.0,307.4 L697.2,298.3 L697.4,289.5 L697.5,288.1 L697.6,286.1 L697.8,275.1 L698.0,263.9 L698.1,262.0 L698.2,260.4 L698.4,249.3 L698.6,237.8 L698.7,236.0 L698.8,233.7 L699.0,219.1 L699.2,210.0 L699.4,200.4 L699.6,190.1 L699.8,191.8 L700.0,196.4 L700.2,203.8 L700.4,212.2 L700.6,220.1 L700.8,226.3 L701.0,229.7 L701.1,230.0 L701.2,230.2 L701.4,231.8 L701.6,234.1 L701.8,237.1 L702.0,240.0 L702.2,242.2 L702.4,242.9 L702.6,237.8 L702.8,225.2 L703.0,210.8 L703.2,201.1 L703.3,200.0 L703.4,199.4 L703.6,194.7 L703.8,188.2 L704.0,183.6 L704.1,182.9 L704.2,185.4 L704.4,202.6 L704.6,224.7 L704.8,234.0 L705.0,223.0 L705.2,198.3 L705.4,178.8 L705.5,176.0 L705.6,177.0 L705.8,183.8 L706.0,195.3 L706.2,206.7 L706.4,214.0 L706.5,215.0 L706.6,214.5 L706.8,211.2 L707.0,204.7 L707.2,199.0 L707.4,195.5 L707.5,194.9 L707.6,195.9 L707.8,201.2 L708.0,210.1 L708.2,219.0 L708.4,224.6 L708.5,225.0 L708.6,224.4 L708.8,220.7 L709.0,214.0 L709.2,205.7 L709.4,195.5 L709.6,185.7 L709.8,178.1 L710.0,173.2 L710.2,171.0 L710.4,175.2 L710.6,185.9 L710.8,199.4 L711.0,210.7 L711.2,214.9 L711.4,213.3 L711.6,209.8 L711.8,205.2 L712.0,201.4 L712.2,200.1 L712.4,199.5 L712.6,198.3 L712.8,197.0 L713.0,195.9 L713.2,195.1 L713.3,194.6 L713.4,195.1 L713.6,198.3 L713.8,204.9 L714.0,211.9 L714.2,218.4 L714.4,221.7 L714.5,221.9 L714.6,221.8 L714.8,219.6 L715.0,215.9 L715.2,212.5 L715.4,210.3 L715.5,210.0 L715.6,208.8 L715.8,202.9 L716.0,193.5 L716.2,184.8 L716.4,181.8 L716.6,185.6 L716.8,195.1 L717.0,206.9 L717.2,214.0 L717.3,215.0 L717.4,214.2 L717.6,209.1 L717.8,199.4 L718.0,189.0 L718.2,181.2 L718.4,178.4 L718.6,181.8 L718.8,190.5 L719.0,202.3 L719.2,212.7 L719.4,219.2 L719.5,220.0 L719.6,219.7 L719.8,217.0 L720.0,212.6 L720.2,208.0 L720.4,205.4 L720.5,205.0 L720.6,204.0 L720.8,197.7 L721.0,188.6 L721.2,180.3 L721.4,177.0 L721.6,183.4 L721.8,199.0 L722.0,216.7 L722.2,228.5 L722.3,230.0 L722.4,229.1 L722.6,220.3 L722.8,206.6 L723.0,194.6 L723.2,190.0 L723.4,195.3 L723.6,208.9 L723.8,226.1 L724.0,239.8 L724.2,245.1 L724.4,235.1 L724.6,210.3 L724.8,181.7 L725.0,162.4 L725.1,159.9 L725.2,162.1 L725.4,180.2 L725.6,207.1 L725.8,230.7 L726.0,240.0 L726.2,208.7 L726.4,158.6 L726.5,149.9 L726.6,152.4 L726.8,170.1 L727.0,197.3 L727.2,221.2 L727.4,230.8 L727.6,226.0 L727.8,211.4 L728.0,193.3 L728.2,176.3 L728.4,166.6 L728.5,165.1 L728.6,166.7 L728.8,180.0 L729.0,200.4 L729.2,218.2 L729.4,224.8 L729.6,218.8 L729.8,204.2 L730.0,187.7 L730.2,176.8 L730.3,175.0 L730.4,176.8 L730.6,188.6 L730.8,206.6 L731.0,222.4 L731.2,228.8 L731.4,225.4 L731.6,216.2 L731.8,203.8 L732.0,192.5 L732.2,186.0 L732.3,185.1 L732.4,186.3 L732.6,192.7 L732.8,203.8 L733.0,214.9 L733.2,222.3 L733.3,222.7 L733.4,222.1 L733.6,215.7 L733.8,206.3 L734.0,198.4 L734.2,195.1 L734.4,205.3 L734.6,231.6 L734.8,258.1 L735.0,269.0 L735.2,261.6 L735.4,241.6 L735.6,217.2 L735.8,197.1 L736.0,190.0 L736.2,194.1 L736.4,204.5 L736.6,216.0 L736.8,224.1 L736.9,224.8 L737.0,223.8 L737.2,214.0 L737.4,198.5 L737.6,185.3 L737.8,180.0 L738.0,177.6 L738.2,174.0 L738.4,172.0 L738.6,180.3 L738.8,199.8 L739.0,218.5 L739.2,226.8 L739.4,231.9 L739.6,242.1 L739.8,247.0 L740.0,240.2 L740.2,223.4 L740.4,204.4 L740.6,191.5 L740.7,189.9 L740.8,190.7 L741.0,198.5 L741.2,210.6 L741.4,220.7 L741.6,224.8 L741.8,220.4 L742.0,208.6 L742.2,195.1 L742.4,186.2 L742.5,185.0 L742.6,186.1 L742.8,194.3 L743.0,207.2 L743.2,218.6 L743.4,222.8 L743.6,210.6 L743.8,183.7 L744.0,162.1 L744.1,159.0 L744.2,161.1 L744.4,176.0 L744.6,198.5 L744.8,218.7 L745.0,226.8 L745.2,222.3 L745.4,211.6 L745.6,199.2 L745.8,191.0 L745.9,190.0 L746.0,191.3 L746.2,199.3 L746.4,210.8 L746.6,221.0 L746.8,225.2 L747.0,219.7 L747.2,204.4 L747.4,187.7 L747.6,176.5 L747.7,175.0 L747.8,176.4 L748.0,187.4 L748.2,204.3 L748.4,219.1 L748.6,224.9 L748.8,219.6 L749.0,205.8 L749.2,189.3 L749.4,175.6 L749.6,170.0" fill="none" stroke="#d4519c" stroke-width="0.7" stroke-linejoin="round"/>
<line x1="405.5" y1="59.0" x2="405.5" y2="313.9" class="ax2"/>
<line x1="405.0" y1="313.4" x2="750.8" y2="313.4" class="ax2"/>
<line x1="400.1" y1="87.5" x2="405.5" y2="87.5" class="ax2"/>
<line x1="400.1" y1="144.0" x2="405.5" y2="144.0" class="ax2"/>
<line x1="400.1" y1="200.5" x2="405.5" y2="200.5" class="ax2"/>
<line x1="400.1" y1="257.0" x2="405.5" y2="257.0" class="ax2"/>
<line x1="400.1" y1="313.5" x2="405.5" y2="313.5" class="ax2"/>
<line x1="402.8" y1="59.2" x2="405.5" y2="59.2" class="ax2"/>
<line x1="402.8" y1="115.8" x2="405.5" y2="115.8" class="ax2"/>
<line x1="402.8" y1="172.2" x2="405.5" y2="172.2" class="ax2"/>
<line x1="402.8" y1="228.8" x2="405.5" y2="228.8" class="ax2"/>
<line x1="402.8" y1="285.2" x2="405.5" y2="285.2" class="ax2"/>
<text x="397.2" y="91.3" font-size="11" text-anchor="end" class="lb">0,2</text>
<text x="397.2" y="147.8" font-size="11" text-anchor="end" class="lb">0,1</text>
<text x="397.2" y="204.3" font-size="11" text-anchor="end" class="lb">0,0</text>
<text x="397.2" y="260.8" font-size="11" text-anchor="end" class="lb">-0,1</text>
<text x="397.2" y="317.3" font-size="11" text-anchor="end" class="lb">-0,2</text>
<line x1="750.3" y1="313" x2="750.3" y2="317.8" class="ax2"/>
<text x="750.3" y="330.2" font-size="11" text-anchor="middle" class="lb">4000</text>
<line x1="692.9" y1="313" x2="692.9" y2="317.8" class="ax2"/>
<text x="692.9" y="330.2" font-size="11" text-anchor="middle" class="lb">5000</text>
<line x1="635.4" y1="313" x2="635.4" y2="317.8" class="ax2"/>
<text x="635.4" y="330.2" font-size="11" text-anchor="middle" class="lb">6000</text>
<line x1="577.9" y1="313" x2="577.9" y2="317.8" class="ax2"/>
<text x="577.9" y="330.2" font-size="11" text-anchor="middle" class="lb">7000</text>
<line x1="520.4" y1="313" x2="520.4" y2="317.8" class="ax2"/>
<text x="520.4" y="330.2" font-size="11" text-anchor="middle" class="lb">8000</text>
<line x1="463.0" y1="313" x2="463.0" y2="317.8" class="ax2"/>
<text x="463.0" y="330.2" font-size="11" text-anchor="middle" class="lb">9000</text>
<line x1="405.5" y1="313" x2="405.5" y2="317.8" class="ax2"/>
<text x="405.5" y="330.2" font-size="11" text-anchor="middle" class="lb">10000</text>
<line x1="721.6" y1="313" x2="721.6" y2="315.8" class="ax2"/>
<line x1="664.1" y1="313" x2="664.1" y2="315.8" class="ax2"/>
<line x1="606.6" y1="313" x2="606.6" y2="315.8" class="ax2"/>
<line x1="549.2" y1="313" x2="549.2" y2="315.8" class="ax2"/>
<line x1="491.7" y1="313" x2="491.7" y2="315.8" class="ax2"/>
<line x1="434.2" y1="313" x2="434.2" y2="315.8" class="ax2"/>
<text x="520" y="352.9" font-size="13.5" class="lb">Wavenumber / cm<tspan font-size="8.5" dy="-5.5">-1</tspan></text>
<text x="636.6" y="75.0" font-size="11.3" textLength="15.0" lengthAdjust="spacingAndGlyphs" class="lb">A3</text>
<text x="695.5" y="75.0" font-size="11.3" textLength="15.0" lengthAdjust="spacingAndGlyphs" class="lb">A2</text>
<text x="733.3" y="75.0" font-size="11.3" textLength="15.0" lengthAdjust="spacingAndGlyphs" class="lb">A1</text>
<line x1="411.1" y1="71.5" x2="441.8" y2="71.5" stroke="#84506a" stroke-width="1"/>
<text x="445.6" y="76.3" font-size="13.4" class="lb">PC2</text>
<line x1="411.1" y1="88.5" x2="441.8" y2="88.5" stroke="#78c078" stroke-width="1"/>
<text x="445.6" y="93.2" font-size="13.4" class="lb">PC3</text>
<line x1="411.1" y1="104.5" x2="441.8" y2="104.5" stroke="#e898c0" stroke-width="1"/>
<text x="445.6" y="109.7" font-size="13.4" class="lb">PC5</text>
</svg>
</body></html>
